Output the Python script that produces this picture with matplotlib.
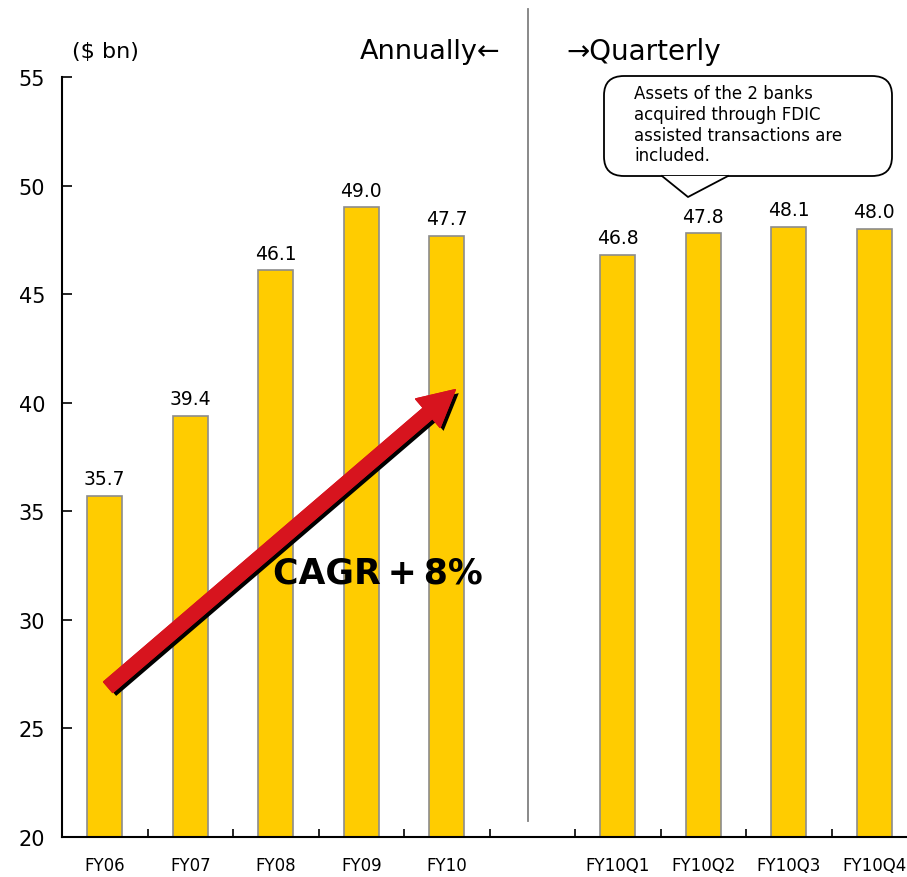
import matplotlib
matplotlib.use('Agg')
import matplotlib.pyplot as plt
import matplotlib.patheffects as pe
from matplotlib.patches import FancyArrowPatch, FancyBboxPatch, Polygon
from matplotlib.lines import Line2D

plt.rcParams['font.family'] = ['DejaVu Sans']

# ---- data ----
categories = ['FY06', 'FY07', 'FY08', 'FY09', 'FY10', '', 'FY10Q1', 'FY10Q2', 'FY10Q3', 'FY10Q4']
values     = [35.7, 39.4, 46.1, 49.0, 47.7, None, 46.8, 47.8, 48.1, 48.0]
yticks     = [20, 25, 30, 35, 40, 45, 50, 55]
note_text  = "Assets of the 2 banks\nacquired through FDIC\nassisted transactions are\nincluded."

W, H = 907, 878
fig = plt.figure(figsize=(W / 100, H / 100), dpi=100)
ax = fig.add_axes([62 / W, 40 / H, 855 / W, 760 / H])

xs = [i for i, v in enumerate(values) if v is not None]
vs = [v for v in values if v is not None]
ax.bar(xs, vs, width=0.41, color='#FFCC00', edgecolor='#8C8C8C', linewidth=1.2, bottom=0)
for x, v in zip(xs, vs):
    ax.text(x, v + 0.35, f'{v:.1f}', ha='center', va='bottom', fontsize=13.5)

ax.set_xlim(-0.5, len(categories) - 0.5)
ax.set_ylim(20, 55)
ax.set_yticks(yticks)
ax.set_yticklabels([str(t) for t in yticks], fontsize=15)
ax.set_xticks(range(len(categories)))
ax.set_xticklabels(categories, fontsize=12)
ax.tick_params(axis='x', length=0, pad=14)
ax.set_xticks([i + 0.5 for i in range(len(categories) - 1)], minor=True)
ax.tick_params(axis='x', which='minor', direction='in', length=6, width=1.2)
ax.tick_params(axis='y', direction='in', length=7, width=1.2, pad=12)
for s in ['top', 'right']:
    ax.spines[s].set_visible(False)
ax.spines['left'].set_linewidth(1.5)
ax.spines['bottom'].set_linewidth(1.5)

# divider between annual and quarterly
fig.add_artist(Line2D([528 / W, 528 / W], [1 - 10 / H, 1 - 822 / H], color='#808080', lw=1.3))

# headers
fig.text(105 / W, 1 - 52 / H, '($ bn)', fontsize=16, ha='center', va='center')
fig.text(500 / W, 1 - 52 / H, 'Annually←', fontsize=19.5, ha='right', va='center')
fig.text(566 / W, 1 - 52 / H, '→Quarterly', fontsize=20, ha='left', va='center')

# CAGR arrow
arr = FancyArrowPatch((0.04, 26.9), (4.1, 40.6), arrowstyle='simple,head_length=26,head_width=27,tail_width=10',
                      mutation_scale=1, color='#D7141E', shrinkA=0, shrinkB=0, zorder=5,
                      path_effects=[pe.withSimplePatchShadow(offset=(2.5, -2.5), shadow_rgbFace='black', alpha=1), pe.Normal()])
ax.add_patch(arr)
ax.text(3.2, 32.2, 'CAGR\u2009+\u20098%', fontsize=25, fontweight='bold', ha='center', va='center', zorder=6)

# callout box
bx0, bx1, by0, by1 = 604, 892, 77, 177
box = FancyBboxPatch((bx0 / W, 1 - by1 / H), (bx1 - bx0) / W, (by1 - by0) / H,
                     boxstyle='round,pad=0,rounding_size=0.022', transform=fig.transFigure,
                     facecolor='white', edgecolor='black', linewidth=1.3)
fig.add_artist(box)
tri = [(662 / W, 1 - by1 / H), (688 / W, 1 - 198 / H), (728 / W, 1 - by1 / H)]
fig.add_artist(Polygon(tri, closed=True, facecolor='white', edgecolor='none', transform=fig.transFigure))
fig.add_artist(Line2D([tri[0][0], tri[1][0], tri[2][0]], [tri[0][1], tri[1][1], tri[2][1]],
                      color='black', lw=1.3, transform=fig.transFigure))
fig.text(634 / W, 1 - 85 / H, note_text, fontsize=12, ha='left', va='top', linespacing=1.2)

fig.savefig('out.png', dpi=100)
